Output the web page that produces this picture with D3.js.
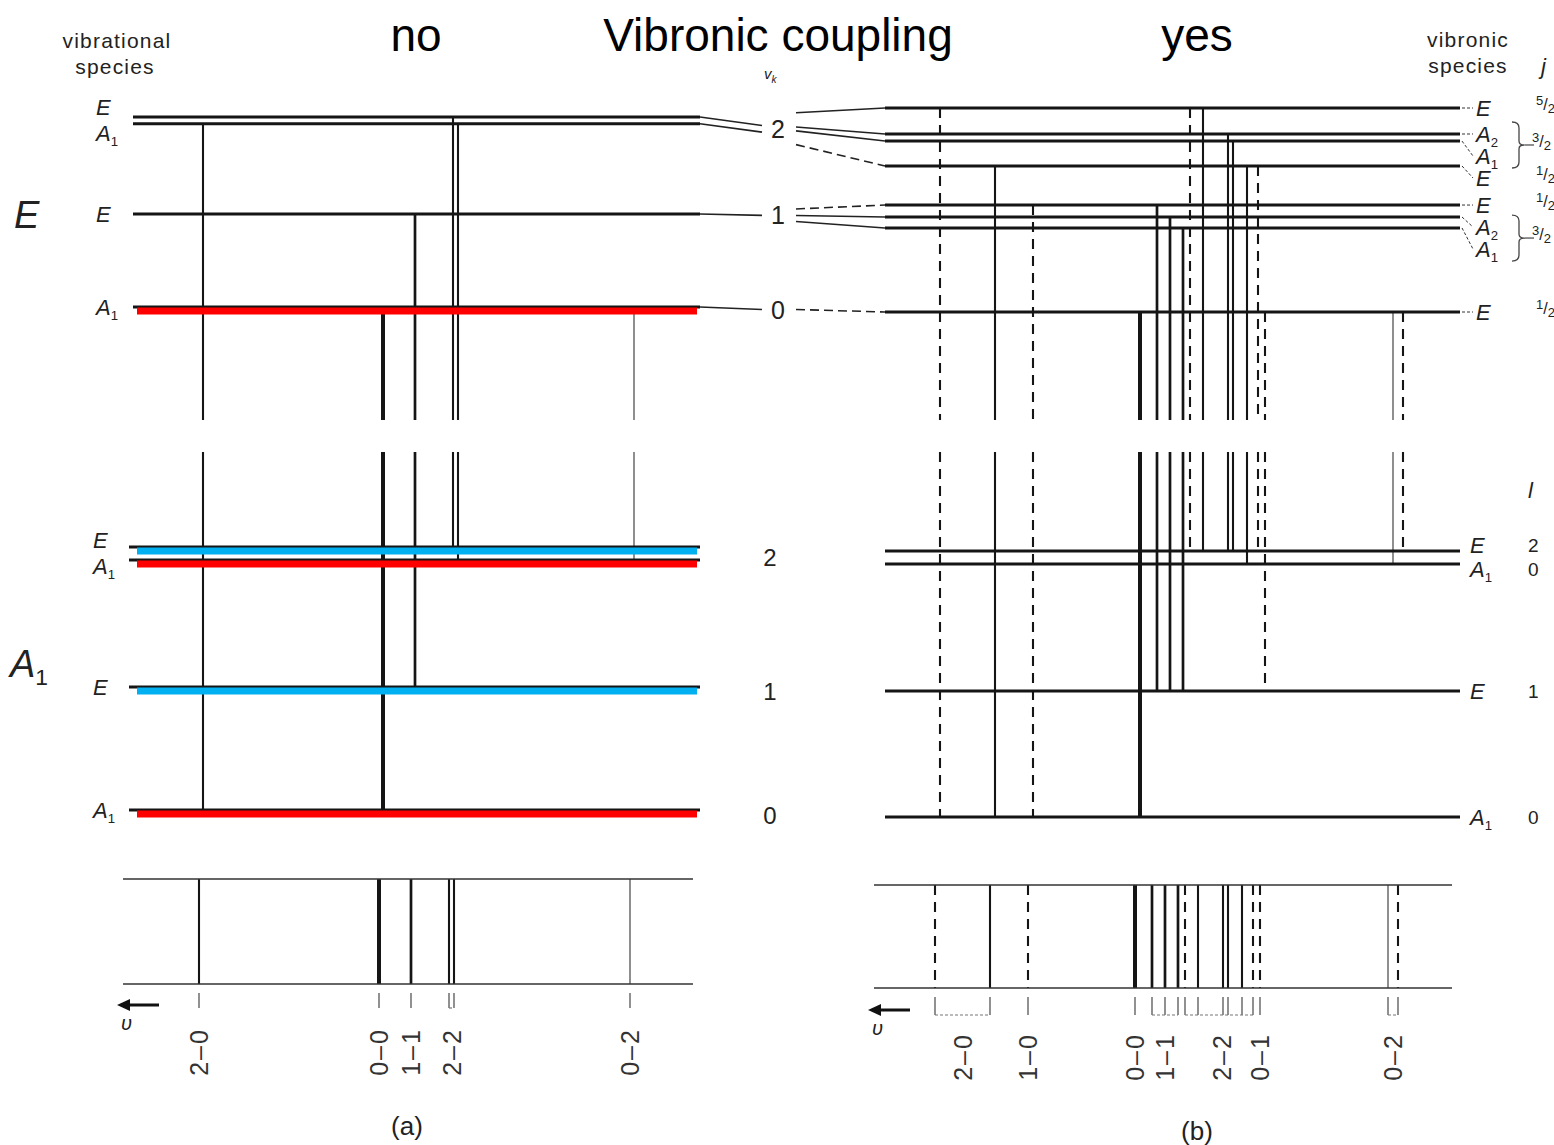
<!DOCTYPE html>
<html><head><meta charset="utf-8">
<script src="https://cdn.jsdelivr.net/npm/d3@7"></script>
<style>body{margin:0;background:#fff}svg{display:block}</style>
</head><body>
<svg id="chart" width="1554" height="1145"></svg>
<script>
// ---------- data ----------
// Vibrational quantum number of the degenerate mode k
const vQuanta = [0, 1, 2];

// (a) no vibronic coupling: vibrational levels, energy in units of the v_k quantum
const upperLevelsA = [
  { id: "uE2", v: 2, sym: "E",  energy: 2.01 },
  { id: "uA2", v: 2, sym: "A1", energy: 1.94 },
  { id: "uE1", v: 1, sym: "E",  energy: 0.984 },
  { id: "uA0", v: 0, sym: "A1", energy: 0.0, highlighted: true }
];
const lowerLevelsA = [
  { id: "lE2", v: 2, sym: "E",  energy: 2.055, highlighted: true },
  { id: "lA2", v: 2, sym: "A1", energy: 1.953, highlighted: true },
  { id: "lE1", v: 1, sym: "E",  energy: 0.96,  highlighted: true },
  { id: "lA0", v: 0, sym: "A1", energy: 0.0,   highlighted: true }
];
// transitions: relative wavenumber nu (0-0 band = 0), intensity class 1..4
const transitionsA = [
  { band: "2-0", from: "uA2", to: "lA0", nu: 180,  intensity: 2, pol: "par" },
  { band: "0-0", from: "uA0", to: "lA0", nu: 0,    intensity: 4, pol: "par" },
  { band: "1-1", from: "uE1", to: "lE1", nu: -32,  intensity: 3, pol: "par" },
  { band: "2-2", from: "uE2", to: "lE2", nu: -70,  intensity: 2, pol: "par" },
  { band: "2-2", from: "uA2", to: "lA2", nu: -75,  intensity: 2, pol: "par" },
  { band: "0-2", from: "uA0", to: "lA2", nu: -251, intensity: 1, pol: "par" }
];

// (b) with vibronic coupling: vibronic levels with quantum number j
const upperLevelsB = [
  { id: "E52",   v: 2, sym: "E",  j: "5/2", energy: 2.136 },
  { id: "A2v2",  v: 2, sym: "A2", j: "3/2", energy: 1.864 },
  { id: "A1v2",  v: 2, sym: "A1", j: "3/2", energy: 1.79 },
  { id: "E12v2", v: 2, sym: "E",  j: "1/2", energy: 1.529 },
  { id: "E12v1", v: 1, sym: "E",  j: "1/2", energy: 1.12 },
  { id: "A2v1",  v: 1, sym: "A2", j: "3/2", energy: 0.995 },
  { id: "A1v1",  v: 1, sym: "A1", j: "3/2", energy: 0.88 },
  { id: "E12v0", v: 0, sym: "E",  j: "1/2", energy: 0.0 }
];
const lowerLevelsB = [
  { id: "bE2", v: 2, l: 2, sym: "E",  energy: 2.078 },
  { id: "bA2", v: 2, l: 0, sym: "A1", energy: 1.977 },
  { id: "bE1", v: 1, l: 1, sym: "E",  energy: 0.984 },
  { id: "bA0", v: 0, l: 0, sym: "A1", energy: 0.0 }
];
const transitionsB = [
  { band: "2-0", from: "E52",   to: "bA0", nu: 200,  intensity: 2, pol: "perp" },
  { band: "2-0", from: "E12v2", to: "bA0", nu: 145,  intensity: 2, pol: "par" },
  { band: "1-0", from: "E12v1", to: "bA0", nu: 107,  intensity: 2, pol: "perp" },
  { band: "0-0", from: "E12v0", to: "bA0", nu: 0,    intensity: 4, pol: "par" },
  { band: "1-1", from: "E12v1", to: "bE1", nu: -17,  intensity: 3, pol: "par" },
  { band: "1-1", from: "A2v1",  to: "bE1", nu: -30,  intensity: 3, pol: "par" },
  { band: "1-1", from: "A1v1",  to: "bE1", nu: -43,  intensity: 3, pol: "par" },
  { band: "2-2", from: "E52",   to: "bE2", nu: -50,  intensity: 2, pol: "perp" },
  { band: "2-2", from: "E52",   to: "bE2", nu: -63,  intensity: 2, pol: "par" },
  { band: "2-2", from: "A2v2",  to: "bE2", nu: -88,  intensity: 2, pol: "par" },
  { band: "2-2", from: "A1v2",  to: "bE2", nu: -93,  intensity: 2, pol: "par" },
  { band: "2-2", from: "E12v2", to: "bA2", nu: -107, intensity: 2, pol: "par" },
  { band: "2-2", from: "E12v2", to: "bE2", nu: -118, intensity: 2, pol: "perp" },
  { band: "0-1", from: "E12v0", to: "bE1", nu: -125, intensity: 2, pol: "perp" },
  { band: "0-2", from: "E12v0", to: "bA2", nu: -253, intensity: 1, pol: "par" },
  { band: "0-2", from: "E12v0", to: "bE2", nu: -263, intensity: 2, pol: "perp" }
];

const titleLeft = "no", titleMid = "Vibronic coupling", titleRight = "yes";
const panelTags = ["(a)", "(b)"];

// ---------- layout ----------
const svg = d3.select("#chart");
const FONT = "'Liberation Sans', Arial, sans-serif";
const INK = "#151515";
const gapTop = 420, gapBot = 452;              // break between the two electronic states

const xA = d3.scaleLinear().domain([250, -317]).range([133, 700]);
const xB = d3.scaleLinear().domain([255, -320]).range([885, 1460]);
const yUpA = d3.scaleLinear().domain([0, 2]).range([307, 118]);
const yLoA = d3.scaleLinear().domain([0, 2]).range([810, 554]);
const yUpB = d3.scaleLinear().domain([0, 2]).range([312, 121]);
const yLoB = d3.scaleLinear().domain([0, 2]).range([817, 561]);
const specA = { shift: -4, top: 879, bot: 984, tick0: 993, tick1: 1008, label: 1052 };
const specB = { shift: -5, top: 885, bot: 988, tick0: 997, tick1: 1015, label: 1057 };

const widthOf = d3.scaleOrdinal().domain([1, 2, 3, 4]).range([1.2, 2.1, 2.7, 4]);
const hiColor = d3.scaleOrdinal().domain(["A1", "E"]).range(["#ff0000", "#00b0f0"]);

// species symbol: italic letter, upright subscript digit
function symText(sel, sym, size) {
  sel.append("tspan").text(sym[0]);
  if (sym.length > 1) sel.append("tspan").attr("font-style", "normal").attr("font-size", size * 0.6)
    .attr("dy", size * 0.22).text(sym.slice(1));
}

function spread(ys, gap, mode) {
  if (mode === "down") {
    const out = [];
    ys.forEach((y, i) => out.push(i ? Math.max(y, out[i - 1] + gap) : y));
    return out;
  }
  let cl = ys.map(y => ({ ys: [y], c: y }));
  const place = c => c.ys.map((_, k) => c.c + (k - (c.ys.length - 1) / 2) * gap);
  let merged = true;
  while (merged) {
    merged = false;
    for (let i = 0; i < cl.length - 1; i++) {
      const a = place(cl[i]), b = place(cl[i + 1]);
      if (b[0] - a[a.length - 1] < gap) {
        const all = cl[i].ys.concat(cl[i + 1].ys);
        cl.splice(i, 2, { ys: all, c: d3.mean(all) });
        merged = true; break;
      }
    }
  }
  return cl.flatMap(place);
}

// ---------- titles ----------
const titles = svg.append("g").attr("font-family", FONT).attr("font-size", 46).attr("fill", "#000").attr("text-anchor", "middle");
titles.append("text").attr("x", 416).attr("y", 51).text(titleLeft);
titles.append("text").attr("x", 778).attr("y", 51).text(titleMid);
titles.append("text").attr("x", 1197).attr("y", 51).text(titleRight);

const small = svg.append("g").attr("font-family", FONT).attr("font-size", 21).attr("fill", "#222")
  .attr("text-anchor", "middle").attr("letter-spacing", 1.2);
small.append("text").attr("x", 117).attr("y", 48).text("vibrational");
small.append("text").attr("x", 115).attr("y", 74).text("species");
small.append("text").attr("x", 1468).attr("y", 47).text("vibronic");
small.append("text").attr("x", 1468).attr("y", 73).text("species");
svg.append("text").attr("x", 1541).attr("y", 74).attr("font-family", FONT).attr("font-style", "italic")
  .attr("font-size", 22).attr("fill", "#222").text("j");

// big electronic state labels
const big = svg.append("g").attr("font-family", FONT).attr("font-style", "italic").attr("font-size", 38)
  .attr("fill", "#222").attr("font-weight", 300);
symText(big.append("text").attr("x", 14).attr("y", 228), "E", 38);
symText(big.append("text").attr("x", 10).attr("y", 677), "A1", 38);

// ---------- level diagrams ----------
function drawLevels(g, levels, x, y, opts) {
  const [x0, x1] = x.range();
  g.selectAll(null).data(levels).join("line")
    .attr("x1", x0 - (opts.lead || 0)).attr("x2", x1)
    .attr("y1", d => y(d.energy)).attr("y2", d => y(d.energy))
    .attr("stroke", INK).attr("stroke-width", 3);
}
function drawHighlights(g, levels, x, y) {
  const [x0, x1] = x.range();
  g.selectAll(null).data(levels.filter(d => d.highlighted)).join("line")
    .attr("x1", x0 + 4).attr("x2", x1 - 3)
    .attr("y1", d => y(d.energy) + 4).attr("y2", d => y(d.energy) + 4)
    .attr("stroke", d => hiColor(d.sym)).attr("stroke-width", 7);
}
function drawTransitions(g, trans, up, lo, x, yUp, yLo, spec) {
  trans.forEach(t => {
    const u = up.find(l => l.id === t.from), l = lo.find(l => l.id === t.to);
    const xx = x(t.nu), w = widthOf(t.intensity);
    const dash = t.pol === "perp" ? "10,7" : null;
    const col = t.intensity === 1 ? "#444" : INK;
    const segs = [[yUp(u.energy), gapTop], [gapBot, yLo(l.energy)], [spec.top, spec.bot]];
    segs.forEach((s, i) => {
      const xs = i === 2 ? xx + spec.shift : xx;
      g.append("line").attr("x1", xs).attr("x2", xs).attr("y1", s[0]).attr("y2", s[1])
        .attr("stroke", col).attr("stroke-width", w).attr("stroke-dasharray", dash);
    });
  });
}
function drawSpectrum(g, trans, x, spec) {
  const [x0, x1] = x.range();
  [spec.top, spec.bot].forEach(yy => g.append("line").attr("x1", x0 - 6 + spec.shift).attr("x2", x1 + spec.shift - 3)
    .attr("y1", yy).attr("y2", yy).attr("stroke", "#333").attr("stroke-width", 1.6));
  const bands = d3.groups(trans, d => d.band);
  bands.forEach(([band, ts]) => {
    const xs = ts.map(t => x(t.nu) + spec.shift);
    xs.forEach(xx => g.append("line").attr("x1", xx).attr("x2", xx).attr("y1", spec.tick0).attr("y2", spec.tick1)
      .attr("stroke", "#555").attr("stroke-width", 1.3));
    if (xs.length > 1) g.append("line").attr("x1", d3.min(xs)).attr("x2", d3.max(xs))
      .attr("y1", spec.tick1).attr("y2", spec.tick1).attr("stroke", "#777").attr("stroke-width", 1.2)
      .attr("stroke-dasharray", "3,2");
    const cx = d3.mean(xs);
    g.append("text").attr("transform", `translate(${cx + 9},${spec.label}) rotate(-90)`)
      .attr("text-anchor", "middle").attr("font-family", FONT).attr("font-size", 25)
      .attr("letter-spacing", 2).attr("fill", "#333").text(band.replace("-", "–"));
  });
}

const gA = svg.append("g"), gB = svg.append("g");
drawTransitions(gA, transitionsA, upperLevelsA, lowerLevelsA, xA, yUpA, yLoA, specA);
drawTransitions(gB, transitionsB, upperLevelsB, lowerLevelsB, xB, yUpB, yLoB, specB);
drawLevels(gA, upperLevelsA, xA, yUpA, {});
drawLevels(gA, lowerLevelsA, xA, yLoA, { lead: 4 });
drawLevels(gB, upperLevelsB, xB, yUpB, {});
drawLevels(gB, lowerLevelsB, xB, yLoB, {});
drawHighlights(gA, upperLevelsA, xA, yUpA);
drawHighlights(gA, lowerLevelsA, xA, yLoA);
drawSpectrum(gA, transitionsA, xA, specA);
drawSpectrum(gB, transitionsB, xB, specB);

// ---------- species labels ----------
const lab = svg.append("g").attr("font-family", FONT).attr("font-style", "italic").attr("font-size", 22).attr("fill", "#222");
function speciesLabels(levels, y, xText, gap, mode, leader) {
  const ys = levels.map(d => y(d.energy));
  const ly = spread(ys, gap, mode);
  levels.forEach((d, i) => {
    symText(lab.append("text").attr("x", xText).attr("y", ly[i]).attr("dy", "0.36em"), d.sym, 22);
    if (leader) lab.append("line").attr("x1", leader).attr("x2", xText - 3).attr("y1", ys[i]).attr("y2", ly[i])
      .attr("stroke", "#333").attr("stroke-width", 1).attr("stroke-dasharray", "3,2");
  });
  return ly;
}
speciesLabels(upperLevelsA, yUpA, 96, 26, "center");
speciesLabels(lowerLevelsA, yLoA, 93, 26, "center");
const lyUB = speciesLabels(upperLevelsB, yUpB, 1476, 22, "down", xB.range()[1] + 2);
const lyLB = speciesLabels(lowerLevelsB, yLoB, 1470, 24, "center");

// j values, grouped with braces where two species share j
const jg = svg.append("g").attr("font-family", FONT).attr("fill", "#222");
function fraction(xx, yy, f) {
  const [n, d] = f.split("/");
  const t = jg.append("text").attr("x", xx).attr("y", yy).attr("dy", "0.3em").attr("font-size", 13);
  t.append("tspan").attr("dy", "-0.2em").text(n);
  t.append("tspan").attr("font-size", 16).attr("dy", "0.3em").text("/");
  t.append("tspan").attr("dy", "0.25em").text(d);
}
let groupsJ = [];
upperLevelsB.forEach((d, i) => {
  const last = groupsJ[groupsJ.length - 1];
  if (last && last.v === d.v && last.j === d.j) last.idx.push(i);
  else groupsJ.push({ v: d.v, j: d.j, idx: [i] });
});
groupsJ.forEach(gj => {
  const ys = gj.idx.map(i => lyUB[i]);
  const mid = d3.mean(ys);
  if (gj.idx.length > 1) {
    const top = d3.min(ys) - 12, bot = d3.max(ys) + 12, bx = 1512;
    const p = d3.path();
    p.moveTo(bx, top); p.quadraticCurveTo(bx + 7, top, bx + 7, top + 6);
    p.lineTo(bx + 7, mid - 4); p.quadraticCurveTo(bx + 7, mid, bx + 12, mid);
    p.quadraticCurveTo(bx + 7, mid, bx + 7, mid + 4);
    p.lineTo(bx + 7, bot - 6); p.quadraticCurveTo(bx + 7, bot, bx, bot);
    jg.append("path").attr("d", p.toString()).attr("fill", "none").attr("stroke", "#444").attr("stroke-width", 1.3);
    jg.append("line").attr("x1", bx + 12).attr("x2", bx + 22).attr("y1", mid).attr("y2", mid)
      .attr("stroke", "#444").attr("stroke-width", 1.2);
    fraction(1532, mid, gj.j);
  } else fraction(1536, mid, gj.j);
});

// l values for the lower vibronic levels
const lg = svg.append("g").attr("font-family", FONT).attr("fill", "#222").attr("font-size", 19);
lg.append("text").attr("x", 1528).attr("y", 498).attr("font-style", "italic").attr("font-size", 22).text("l");
lowerLevelsB.forEach((d, i) => lg.append("text").attr("x", 1528).attr("y", lyLB[i]).attr("dy", "0.36em").text(d.l));

// ---------- v_k column with connectors ----------
const mid = svg.append("g").attr("font-family", FONT).attr("fill", "#222");
const vk = mid.append("text").attr("x", 764).attr("y", 79).attr("font-style", "italic").attr("font-size", 15);
vk.append("tspan").text("v");
vk.append("tspan").attr("font-size", 10).attr("dy", 4).text("k");

vQuanta.forEach(v => {
  const la = upperLevelsA.filter(d => d.v === v), lb = upperLevelsB.filter(d => d.v === v);
  const mA = d3.mean(la, d => yUpA(d.energy)), mB = d3.mean(lb, d => yUpB(d.energy));
  const ly = (mA + mB) / 2;
  mid.append("text").attr("x", 778).attr("y", ly).attr("dy", "0.36em").attr("text-anchor", "middle")
    .attr("font-size", 25).text(v);
  la.forEach(d => mid.append("line").attr("x1", xA.range()[1]).attr("x2", 762)
    .attr("y1", yUpA(d.energy)).attr("y2", ly + (yUpA(d.energy) - mA))
    .attr("stroke", "#222").attr("stroke-width", 1.6));
  lb.forEach(d => mid.append("line").attr("x1", 796).attr("x2", xB.range()[0])
    .attr("y1", ly + (yUpB(d.energy) - mB) * 0.55).attr("y2", yUpB(d.energy))
    .attr("stroke", "#222").attr("stroke-width", 1.6)
    .attr("stroke-dasharray", d.j === "1/2" ? "9,5" : null));

  const lla = lowerLevelsA.filter(d => d.v === v), llb = lowerLevelsB.filter(d => d.v === v);
  const lmA = d3.mean(lla, d => yLoA(d.energy)), lmB = d3.mean(llb, d => yLoB(d.energy));
  mid.append("text").attr("x", 770).attr("y", (lmA + lmB) / 2 + 2).attr("dy", "0.36em").attr("text-anchor", "middle")
    .attr("font-size", 24).text(v);
});

// ---------- frequency arrows and panel tags ----------
function nuArrow(x0, yy) {
  const a = svg.append("g");
  a.append("line").attr("x1", x0 + 42).attr("x2", x0 + 8).attr("y1", yy).attr("y2", yy)
    .attr("stroke", "#111").attr("stroke-width", 3);
  a.append("path").attr("d", `M${x0},${yy}L${x0 + 13},${yy - 6}L${x0 + 13},${yy + 6}Z`).attr("fill", "#111");
  a.append("text").attr("x", x0 + 4).attr("y", yy + 25).attr("font-family", FONT).attr("font-style", "italic")
    .attr("font-size", 20).attr("fill", "#222").text("υ");
}
nuArrow(xA.range()[0] - 16, 1005);
nuArrow(xB.range()[0] - 17, 1010);

const tags = svg.append("g").attr("font-family", FONT).attr("font-size", 26).attr("fill", "#222").attr("text-anchor", "middle");
tags.append("text").attr("x", 407).attr("y", 1135).text(panelTags[0]);
tags.append("text").attr("x", 1197).attr("y", 1140).text(panelTags[1]);
</script>
</body></html>
